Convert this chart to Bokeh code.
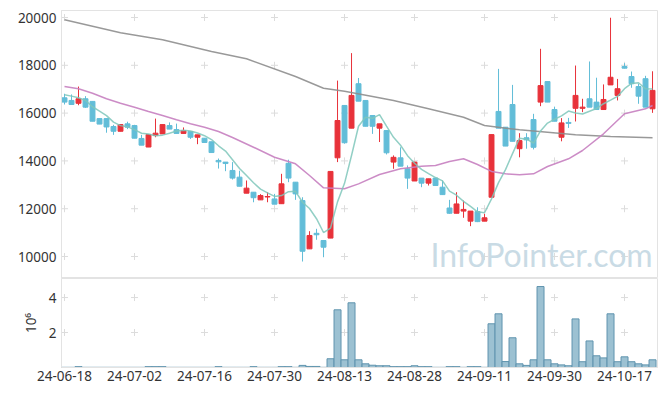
import numpy as np
import pandas as pd
from bokeh.plotting import figure
from bokeh.layouts import column
from bokeh.models import ColumnDataSource, FixedTicker, Label, Range1d
from bokeh.embed import file_html
from bokeh.resources import INLINE

# ---------------- data ----------------
tick_idx = [0, 10, 20, 30, 40, 50, 60, 70, 80]
tick_labels = ["24-06-18", "24-07-02", "24-07-16", "24-07-30", "24-08-13",
               "24-08-28", "24-09-11", "24-09-30", "24-10-17"]
price_ticks = [10000, 12000, 14000, 16000, 18000, 20000]
vol_ticks = [2, 4]

opens = [16640, 16530, 16410, 16600, 16490, 15770, 15770, 15440, 15240, 15550,
         15480, 14940, 14580, 15060, 15130, 15480, 15310, 15150, 15230, 14990,
         14950, 14800, 14020, 13950, 13600, 13320, 12650, 12690, 12370, 12490,
         12410, 12210, 13900, 13110, 12340, 10320, 10970, 10670, 10770, 14130,
         16320, 15370, 17230, 16530, 15900, 15370, 15270, 13950, 14130, 13670,
         13160, 13280, 13070, 13280, 12900, 12030, 11810, 11900, 11480, 11880,
         11480, 12480, 16070, 15410, 16360, 14510, 14970, 15730, 16460, 17320,
         16150, 14990, 15610, 16200, 16200, 16600, 16460, 16150, 17180, 16740,
         17950, 17530, 17110, 17440, 16180]
highs = [16810, 16780, 17110, 16710, 16490, 15770, 15770, 15510, 15520, 15640,
         15510, 15090, 15100, 15770, 15520, 15610, 15560, 15400, 15230, 15090,
         14950, 14800, 14100, 13950, 13950, 13590, 13180, 12690, 12610, 12690,
         12620, 13460, 14050, 13110, 12480, 11060, 11160, 10670, 13560, 17360,
         16320, 18510, 17470, 16530, 15900, 15550, 15270, 14230, 14570, 13810,
         13950, 13280, 13250, 13280, 13180, 12370, 12690, 12340, 11900, 12060,
         11790, 15100, 17850, 15410, 17180, 15160, 15160, 15970, 18690, 17320,
         16270, 15790, 15800, 17990, 16600, 18160, 17480, 17200, 19990, 17430,
         18090, 17740, 17230, 17560, 17750]
lows = [16360, 16350, 16330, 16220, 15660, 15540, 15180, 15090, 15240, 15330,
        14950, 14660, 14580, 14990, 15130, 15330, 15150, 15150, 14920, 14700,
        14770, 14350, 13680, 13570, 13220, 12940, 12650, 12270, 12370, 12270,
        12190, 12210, 13110, 12370, 9790, 10320, 10700, 9970, 10770, 13950,
        14720, 15370, 16500, 15450, 15130, 14790, 14270, 13670, 13780, 12830,
        13160, 12900, 12970, 12970, 12590, 11790, 11810, 11620, 11270, 11440,
        11480, 12480, 15370, 14620, 14820, 14150, 14510, 14480, 16290, 16460,
        15660, 14820, 15380, 15650, 16040, 16250, 16150, 16150, 17180, 16530,
        17880, 17060, 16390, 16250, 16010]
closes = [16460, 16360, 16600, 16250, 15660, 15540, 15420, 15240, 15520, 15410,
          14950, 14660, 15100, 15160, 15520, 15330, 15150, 15270, 14990, 15090,
          14770, 14350, 13960, 13890, 13280, 12940, 12860, 12460, 12550, 12510,
          12190, 13040, 13280, 12620, 10220, 10880, 10910, 10390, 13560, 15690,
          14760, 16740, 16500, 15450, 15450, 15550, 14340, 14150, 13780, 13280,
          13950, 13070, 13250, 12970, 12590, 11810, 12200, 11970, 11900, 11460,
          11620, 15100, 15370, 14620, 14820, 14850, 14880, 14570, 17150, 16460,
          15660, 15590, 15570, 16740, 16250, 16250, 16150, 16570, 17500, 17020,
          17880, 17230, 16710, 16250, 16950]
volume_m = [0.01, 0.01, 0.05, 0.01, 0.01, 0.01, 0.01, 0.01, 0.01, 0.01,
            0.01, 0.01, 0.05, 0.05, 0.05, 0.01, 0.01, 0.01, 0.01, 0.01,
            0.01, 0.01, 0.05, 0.01, 0.01, 0.01, 0.01, 0.05, 0.01, 0.01,
            0.01, 0.05, 0.05, 0.01, 0.12, 0.06, 0.06, 0.01, 0.50, 3.30,
            0.44, 3.70, 0.44, 0.21, 0.13, 0.10, 0.10, 0.05, 0.05, 0.05,
            0.10, 0.05, 0.05, 0.01, 0.01, 0.05, 0.05, 0.01, 0.05, 0.05,
            0.01, 2.50, 3.07, 0.34, 1.70, 0.21, 0.12, 0.44, 4.63, 0.44,
            0.21, 0.15, 0.10, 2.78, 0.33, 1.52, 0.67, 0.55, 3.07, 0.33,
            0.61, 0.33, 0.21, 0.15, 0.44]

# first four 5-day averages (need closes before the window)
ma5_head = [16770, 16710, 16640, 16530]
ma20_idx = [0, 2, 4, 6, 8, 10, 12, 14, 16, 18, 20, 22, 24, 27, 30, 33, 35, 37, 40,
            42, 45, 48, 51, 53, 55, 57, 59, 61, 63, 65, 67, 69, 72, 74, 77, 80, 83, 84]
ma20_val = [17113, 17017, 16833, 16598, 16414, 16247, 16067, 15899, 15719, 15552,
            15410, 15230, 14979, 14573, 14155, 13879, 13389, 12874, 12833,
            13040, 13431, 13669, 13778, 13807, 13975, 14088, 13850, 13560, 13460,
            13418, 13460, 13766, 14088, 14435, 15134, 15970, 16180, 16318]
ma120_idx = [0, 8, 14, 21, 26, 33, 37, 40, 44, 47, 52, 57, 60, 65, 69, 73, 78, 84]
ma120_val = [19904, 19360, 19067, 18577, 18272, 17531, 17042, 16916, 16694, 16527,
             16180, 15828, 15481, 15301, 15201, 15092, 15021, 14966]

# ---------------- derived ----------------
idx = np.arange(len(closes))
o = np.array(opens, dtype=float)
c = np.array(closes, dtype=float)
ma5 = pd.Series(c).rolling(5).mean().to_numpy()
ma5[:4] = ma5_head

UP = "#e8323a"
DOWN = "#62bdd8"
colors = [UP if cc >= oo else DOWN for oo, cc in zip(o, c)]
src = ColumnDataSource(dict(x=idx, h=highs, l=lows,
                            top=np.maximum(o, c), bot=np.minimum(o, c),
                            color=colors))

FONT = "Noto Sans"
GRID = "#dcdcdc"
BORDER = "#e3e3e3"

p = figure(width=664, height=278, output_backend="svg", toolbar_location=None,
           x_range=Range1d(-0.43, 84.71), y_range=Range1d(9080, 20293),
           x_axis_location=None, min_border_left=61, min_border_right=7,
           min_border_top=10, min_border_bottom=0)
p.grid.visible = False
p.outline_line_color = BORDER
p.background_fill_color = "white"
p.yaxis.ticker = FixedTicker(ticks=price_ticks)
p.yaxis.major_tick_out = 0
p.yaxis.major_tick_in = 0
p.yaxis.minor_tick_out = 0
p.yaxis.minor_tick_in = 0
p.yaxis.axis_line_color = BORDER
p.yaxis.major_label_standoff = 5
p.yaxis.major_label_text_font = FONT
p.yaxis.major_label_text_font_size = "13.5px"
p.yaxis.major_label_text_color = "#333333"

gx, gy = np.meshgrid(tick_idx, price_ticks)
p.scatter(gx.ravel(), gy.ravel(), marker="cross", size=7, line_color=GRID, line_width=1)

p.add_layout(Label(x=(430 - 64) / 7.0, y=10096, text="InfoPointer.com",
                   text_font="Lato", text_font_size="32px", text_color="#c9dbe5",
                   text_baseline="alphabetic"))

p.segment(x0="x", y0="l", x1="x", y1="h", line_color="color", line_width=1, source=src)
p.vbar(x="x", width=0.7, top="top", bottom="bot", fill_color="color",
       line_color="color", line_width=1, source=src)

p.line(ma120_idx, ma120_val, line_color="#8e8e8e", line_width=1.5, line_alpha=0.9)
p.line(ma20_idx, ma20_val, line_color="#c77fc0", line_width=1.5, line_alpha=0.9)
p.line(idx, ma5, line_color="#7fc7bb", line_width=1.5, line_alpha=0.85)

v = figure(width=664, height=117, output_backend="svg", toolbar_location=None,
           x_range=p.x_range, y_range=Range1d(0, 5.09),
           min_border_left=61, min_border_right=7, min_border_top=0,
           min_border_bottom=28)
v.grid.visible = False
v.outline_line_color = BORDER
vx, vy = np.meshgrid(tick_idx, vol_ticks)
v.scatter(vx.ravel(), vy.ravel(), marker="cross", size=7, line_color=GRID, line_width=1)
v.vbar(x=idx, width=1.0, top=volume_m, bottom=0, fill_color="#9cc1d2",
       line_color="#5f94ae", line_width=1)

v.yaxis.ticker = FixedTicker(ticks=vol_ticks)
v.yaxis.axis_label = "10⁶"
v.yaxis.axis_label_text_font = FONT
v.yaxis.axis_label_text_font_size = "13.5px"
v.yaxis.axis_label_text_font_style = "normal"
v.yaxis.axis_label_text_color = "#333333"
v.yaxis.axis_label_standoff = 6
v.xaxis.ticker = FixedTicker(ticks=tick_idx)
v.xaxis.major_label_overrides = {t: s for t, s in zip(tick_idx, tick_labels)}
for ax in (v.xaxis, v.yaxis):
    ax.major_tick_out = 0
    ax.major_tick_in = 0
    ax.minor_tick_out = 0
    ax.minor_tick_in = 0
    ax.axis_line_color = BORDER
    ax.major_label_text_font = FONT
    ax.major_label_text_font_size = "13.5px"
    ax.major_label_text_color = "#333333"
v.yaxis.major_label_standoff = 5
v.xaxis.major_label_standoff = 3

layout = column(p, v, spacing=0)
open("out.html", "w").write(file_html(layout, INLINE))
